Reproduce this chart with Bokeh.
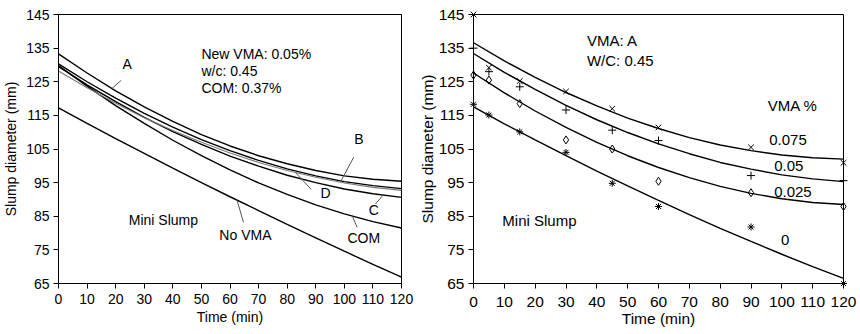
from bokeh.plotting import figure
from bokeh.layouts import row
from bokeh.models import Range1d, FixedTicker, Label
from bokeh.embed import file_html
from bokeh.resources import INLINE

FONT = "Liberation Sans"

# ---------------- data: left panel (fitted curves, read at 10-min steps) ----------------
time_curve = [0, 10, 20, 30, 40, 50, 60, 70, 80, 90, 100, 110, 120]
curve_A = [133.3, 127.6, 122.3, 117.5, 113.2, 109.3, 105.9, 103.0, 100.6, 98.6, 97.0, 96.0, 95.4]
curve_B = [130.3, 125.0, 120.1, 115.6, 111.5, 107.8, 104.5, 101.6, 99.1, 97.0, 95.3, 94.1, 93.2]
curve_C = [129.5, 124.1, 119.1, 114.4, 110.2, 106.4, 102.9, 99.9, 97.2, 95.0, 93.1, 91.7, 90.6]
curve_D = [128.2, 123.2, 118.6, 114.3, 110.5, 107.0, 103.8, 101.0, 98.6, 96.6, 94.9, 93.6, 92.7]
curve_COM = [129.8, 123.7, 117.9, 112.6, 107.6, 103.0, 98.8, 94.9, 91.5, 88.4, 85.7, 83.4, 81.5]
curve_NoVMA = [117.2, 112.6, 108.1, 103.7, 99.3, 95.0, 90.8, 86.7, 82.6, 78.6, 74.6, 70.7, 66.9]

# ---------------- data: right panel (measurements and fitted curves) ----------------
time_meas = [0, 5, 15, 30, 45, 60, 90, 120]
meas_075 = [145.0, 129.2, 125.2, 122.1, 117.0, 111.4, 105.5, 100.9]
meas_05 = [135.0, 128.0, 123.5, 116.6, 110.6, 107.5, 97.1, 95.6]
meas_025 = [127.0, 125.5, 118.5, 107.7, 105.0, 95.4, 92.0, 87.9]
meas_0 = [118.3, 115.1, 110.1, 104.0, 94.8, 87.9, 81.8, 65.0]

fit_075 = [136.6, 131.2, 126.3, 121.8, 117.8, 114.2, 111.1, 108.4, 106.2, 104.5, 103.2, 102.4, 102.0]
fit_05 = [133.4, 127.8, 122.7, 118.0, 113.7, 109.9, 106.5, 103.6, 101.0, 99.0, 97.3, 96.1, 95.3]
fit_025 = [127.6, 121.7, 116.3, 111.4, 107.0, 103.0, 99.5, 96.5, 93.9, 91.8, 90.2, 89.1, 88.5]
fit_0 = [117.5, 112.5, 107.7, 103.0, 98.4, 94.0, 89.7, 85.5, 81.4, 77.5, 73.7, 70.0, 66.5]

x_ticks = [0, 10, 20, 30, 40, 50, 60, 70, 80, 90, 100, 110, 120]
y_ticks = [65, 75, 85, 95, 105, 115, 125, 135, 145]

# annotation anchors (data units)
left_labels = [
    ("New VMA: 0.05%", 50.0, 133.3, "left"),
    ("w/c: 0.45", 50.0, 128.1, "left"),
    ("COM: 0.37%", 50.0, 123.2, "left"),
    ("A", 24.0, 130.3, "center"),
    ("B", 105.1, 108.0, "center"),
    ("D", 93.4, 91.9, "center"),
    ("C", 110.3, 86.9, "center"),
    ("COM", 106.8, 78.6, "center"),
    ("No VMA", 65.4, 79.3, "center"),
    ("Mini Slump", 24.6, 84.0, "left"),
]
left_leaders = [  # x0, y0, x1, y1
    (21.9, 125.4, 18.7, 123.0),
    (103.3, 102.6, 98.9, 95.6),
    (88.4, 93.0, 83.0, 97.9),
    (110.9, 88.7, 113.5, 91.2),
    (104.5, 81.7, 102.8, 85.0),
    (64.7, 83.2, 62.5, 89.7),
]
right_labels = [
    ("VMA: A", 36.8, 137.4, "left"),
    ("W/C: 0.45", 36.8, 131.4, "left"),
    ("VMA %", 95.4, 117.8, "left"),
    ("0.075", 95.9, 107.7, "left"),
    ("0.05", 97.5, 99.8, "left"),
    ("0.025", 97.5, 92.1, "left"),
    ("0", 101.1, 78.0, "center"),
    ("Mini Slump", 9.35, 83.8, "left"),
]


def style(p, tick_size, label_size, x_standoff, xlab_standoff, y_lab_standoff):
    p.outline_line_color = "black"
    p.outline_line_width = 1
    p.xgrid.visible = False
    p.ygrid.visible = False
    p.background_fill_color = "white"
    p.border_fill_color = "white"
    p.xaxis.ticker = FixedTicker(ticks=x_ticks)
    p.yaxis.ticker = FixedTicker(ticks=y_ticks)
    for ax in (p.xaxis[0], p.yaxis[0]):
        ax.axis_line_color = "black"
        ax.major_tick_line_color = "black"
        ax.major_tick_out = 5
        ax.major_tick_in = 0
        ax.minor_tick_line_color = None
        ax.major_label_text_font = FONT
        ax.major_label_text_font_size = tick_size
        ax.major_label_text_color = "black"
        ax.axis_label_text_font = FONT
        ax.axis_label_text_font_size = label_size
        ax.axis_label_text_font_style = "normal"
        ax.axis_label_text_color = "black"
    p.xaxis.axis_label = "Time (min)"
    p.yaxis.axis_label = "Slump diameter (mm)"
    p.xaxis.major_label_standoff = x_standoff
    p.xaxis.axis_label_standoff = xlab_standoff
    p.yaxis.major_label_standoff = 4
    p.yaxis.axis_label_standoff = y_lab_standoff


# ---------------- left panel ----------------
p1 = figure(width=415, height=334, output_backend="svg", toolbar_location=None,
            x_range=Range1d(0, 120), y_range=Range1d(65, 145),
            min_border_left=58, min_border_right=14, min_border_top=14, min_border_bottom=51)
style(p1, "14px", "14px", 5, 2, 4)

for ys, col, w in [(curve_A, "black", 1.4), (curve_B, "black", 1.4), (curve_C, "black", 1.4),
                   (curve_COM, "black", 1.4), (curve_NoVMA, "black", 1.4), (curve_D, "#7a7a7a", 1.1)]:
    p1.line(time_curve, ys, line_color=col, line_width=w)

for x0, y0, x1, y1 in left_leaders:
    p1.segment(x0=[x0], y0=[y0], x1=[x1], y1=[y1], line_color="#555555", line_width=1)

for txt, x, y, al in left_labels:
    p1.add_layout(Label(x=x, y=y, text=txt, text_font=FONT, text_font_size="14px",
                        text_align=al, text_baseline="middle", text_color="black"))

# ---------------- right panel ----------------
p2 = figure(width=445, height=334, output_backend="svg", toolbar_location=None,
            x_range=Range1d(0, 120), y_range=Range1d(65, 145),
            min_border_left=56, min_border_right=17, min_border_top=13, min_border_bottom=51)
style(p2, "15.5px", "15.5px", 8, 0, 0)

for ys in (fit_075, fit_05, fit_025, fit_0):
    p2.line(time_curve, ys, line_color="black", line_width=1.4)

p2.scatter(time_meas, meas_075, marker="x", size=8, line_color="black", line_width=1, level="overlay")
p2.scatter(time_meas, meas_05, marker="cross", size=8, line_color="black", line_width=1, level="overlay")
p2.scatter(time_meas, meas_025, marker="diamond", size=8, line_color="black", fill_alpha=0,
           line_width=1, level="overlay")
p2.scatter(time_meas, meas_0, marker="asterisk", size=7, line_color="black", line_width=1, level="overlay")

for txt, x, y, al in right_labels:
    p2.add_layout(Label(x=x, y=y, text=txt, text_font=FONT, text_font_size="15px",
                        text_align=al, text_baseline="middle", text_color="black"))

layout = row(p1, p2)
open("out.html", "w").write(file_html(layout, INLINE))
